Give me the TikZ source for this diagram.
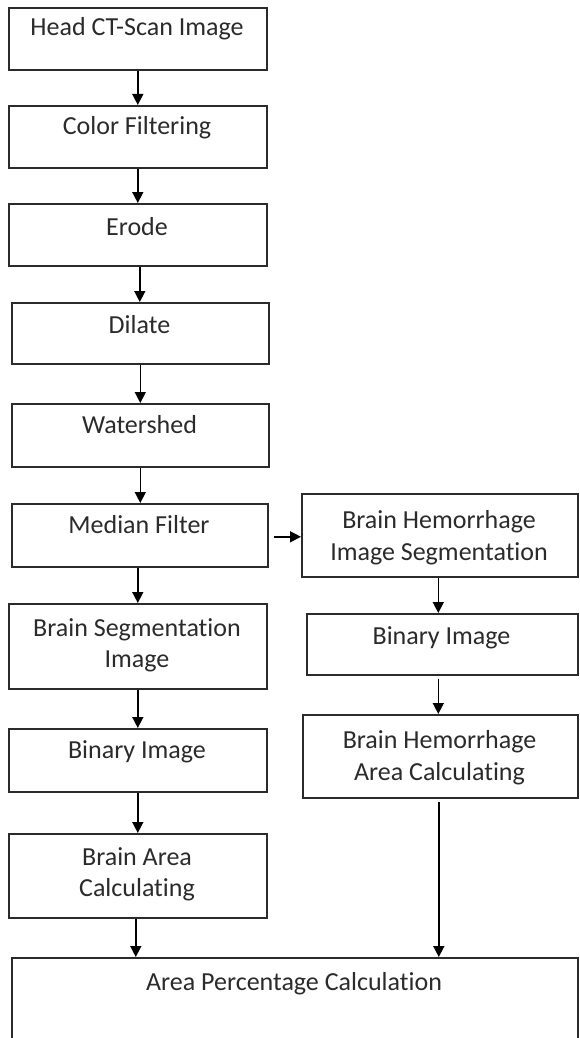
\documentclass[tikz,border=0pt]{standalone}
\usepackage{fontspec}
\setmainfont{Carlito}[Ligatures=NoCommon]
\usetikzlibrary{arrows.meta}
\definecolor{ink}{HTML}{2B2B2B}
\tikzset{
  box/.style={draw=ink, line width=1.6pt, rectangle, inner sep=0pt, anchor=north west, fill=white},
  lbl/.style={inner sep=0pt, anchor=base, text=ink, font=\fontsize{26}{31}\selectfont},
  arr/.style={draw=black, line width=1.5pt, -{Triangle[width=11pt,length=11pt]}}
}
\newcommand{\mybox}[5]{\node[box, minimum width=#4pt-#2pt, minimum height=#5pt-#3pt] (#1) at (#2,#3) {};}
\begin{document}
\begin{tikzpicture}[x=1pt,y=-1pt]
\useasboundingbox (0,0) rectangle (579,1038);
\clip (0,0) rectangle (579,1038);
% left column
\mybox{head}{8}{7}{266}{69}
\mybox{color}{8}{105}{266}{167}
\mybox{erode}{8}{203}{266}{265}
\mybox{dilate}{11}{302}{268}{363}
\mybox{water}{11}{403}{268}{466}
\mybox{median}{11}{503}{267}{566}
\mybox{bsi}{8}{603}{266}{688}
\mybox{binl}{8}{728}{266}{791}
\mybox{barea}{8}{833}{266}{917}
\mybox{apc}{11}{957}{577}{1060}
% right column
\mybox{bhis}{301}{493}{577}{576}
\mybox{binr}{306}{613}{577}{674}
\mybox{bhac}{302}{714}{577}{797}
% labels
\node[lbl] (head-t) at (137,36) {Head CT-Scan Image};
\node[lbl] (color-t) at (137,135) {Color Filtering};
\node[lbl] (erode-t) at (137,235) {Erode};
\node[lbl] (dilate-t) at (139.5,333) {Dilate};
\node[lbl] (water-t) at (139.5,433) {Watershed};
\node[lbl] (median-t) at (139,533) {Median Filter};
\node[lbl] (bsi-t1) at (137,636) {Brain Segmentation};
\node[lbl] (bsi-t2) at (137,667) {Image};
\node[lbl] (binl-t) at (137,758) {Binary Image};
\node[lbl] (barea-t1) at (137,865) {Brain Area};
\node[lbl] (barea-t2) at (137,896) {Calculating};
\node[lbl] (apc-t) at (294,990) {Area Percentage Calculation};
\node[lbl] (bhis-t1) at (439,528) {Brain Hemorrhage};
\node[lbl] (bhis-t2) at (439,560) {Image Segmentation};
\node[lbl] (binr-t) at (441.5,644) {Binary Image};
\node[lbl] (bhac-t1) at (439.5,748) {Brain Hemorrhage};
\node[lbl] (bhac-t2) at (439.5,780) {Area Calculating};
% arrows
\draw[arr] (head.south) -- (head.south |- color.north);
\draw[arr] (color.south) -- (color.south |- erode.north);
\draw[arr] ([xshift=2pt]erode.south) -- ([xshift=2pt]erode.south |- dilate.north);
\draw[arr] (dilate.south) -- (dilate.south |- water.north);
\draw[arr] (water.south) -- (water.south |- median.north);
\draw[arr] ([xshift=-2pt]median.south) -- ([xshift=-2pt]median.south |- bsi.north);
\draw[arr] (bsi.south) -- (bsi.south |- binl.north);
\draw[arr] (binl.south) -- (binl.south |- barea.north);
\draw[arr] ([xshift=-2pt]barea.south) -- ([xshift=-2pt]barea.south |- apc.north);
\draw[arr, shorten <=5pt] ([yshift=-1.5pt]median.east) -- ([yshift=-1.5pt]median.east -| bhis.west);
\draw[arr] ([xshift=-1.5pt]bhis.south) -- ([xshift=-1.5pt]bhis.south |- binr.north);
\draw[arr, shorten <=3pt] ([xshift=-1.5pt]binr.south -| bhis.south) -- ([xshift=-1.5pt]bhis.south |- bhac.north);
\draw[arr, shorten <=3pt] ([xshift=-1.5pt]bhac.south) -- ([xshift=-1.5pt]bhac.south |- apc.north);
\end{tikzpicture}
\end{document}
